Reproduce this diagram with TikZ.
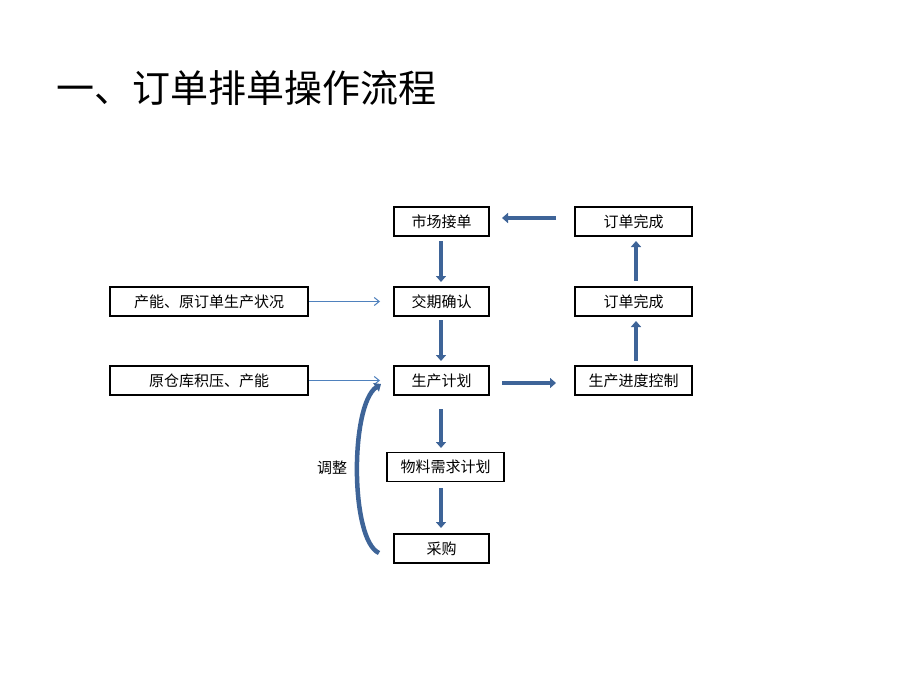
\documentclass[tikz,border=0pt]{standalone}
\usepackage{fontspec}
\setmainfont{Noto Sans CJK SC}
\newfontfamily\cjk{Noto Sans CJK SC}
\usetikzlibrary{arrows.meta}
\definecolor{thickblue}{RGB}{62,100,152}
\definecolor{thinblue}{RGB}{79,129,189}
\tikzset{
  box/.style={draw=black, line width=1.8pt, minimum height=29pt, inner sep=0pt, font=\fontsize{15}{17}\selectfont\cjk},
  flow/.style={draw=thickblue, line width=4.5pt, -{Triangle[width=10pt,length=6pt]}},
  feed/.style={draw=thinblue, line width=1pt, -{Straight Barb[width=8pt,length=5pt]}},
}
\begin{document}
\begin{tikzpicture}[x=1pt,y=-1pt]
\useasboundingbox[fill=white] (0,0) rectangle (920,690);
\node[anchor=west, inner sep=0pt, font=\fontsize{38}{42}\selectfont\cjk] (title) at (56,88) {一、订单排单操作流程};

\node[box, minimum width=95pt] (market) at (441.5,221.5) {市场接单};
\node[box, minimum width=117pt] (done1) at (633.5,221.5) {订单完成};
\node[box, minimum width=95pt] (confirm) at (441.5,301.5) {交期确认};
\node[box, minimum width=117pt] (done2) at (633.5,301.5) {订单完成};
\node[box, minimum width=95pt] (plan) at (441.5,380.5) {生产计划};
\node[box, minimum width=117pt] (ctrl) at (633.5,380.5) {生产进度控制};
\node[box, minimum width=117pt] (mrp) at (445.5,467) {物料需求计划};
\node[box, minimum width=95pt] (buy) at (441.5,548.5) {采购};
\node[box, minimum width=198pt] (cap1) at (209,301.5) {产能、原订单生产状况};
\node[box, minimum width=198pt] (cap2) at (209,380.5) {原仓库积压、产能};

\coordinate (c1) at (380,301.5);
\coordinate (c2) at (380,380.5);
\draw[feed] (cap1.east) -- (c1);
\draw[feed] (cap2.east) -- (c2);

\coordinate (a1s) at (441,241);  \coordinate (a1e) at (441,282);
\coordinate (a2s) at (441,320);  \coordinate (a2e) at (441,361);
\coordinate (a3s) at (441,409);  \coordinate (a3e) at (441,448);
\coordinate (a4s) at (441,488);  \coordinate (a4e) at (441,528);
\coordinate (h1s) at (502,383);  \coordinate (h1e) at (556,383);
\coordinate (h2s) at (556,218);  \coordinate (h2e) at (502,218);
\coordinate (v1s) at (636,361);  \coordinate (v1e) at (636,321);
\coordinate (v2s) at (636,281);  \coordinate (v2e) at (636,241);

\draw[flow] (a1s) -- (a1e);
\draw[flow] (a2s) -- (a2e);
\draw[flow] (a3s) -- (a3e);
\draw[flow] (a4s) -- (a4e);
\draw[flow] (h1s) -- (h1e);
\draw[flow] (h2s) -- (h2e);
\draw[flow] (v1s) -- (v1e);
\draw[flow] (v2s) -- (v2e);

\coordinate (b0) at (379,553);
\coordinate (b1) at (381,384);
\draw[flow] (b0) .. controls (350,540) and (350,405) .. (b1);
\node[font=\fontsize{15}{17}\selectfont\cjk] (adj) at (332,468) {调整};
\end{tikzpicture}
\end{document}
